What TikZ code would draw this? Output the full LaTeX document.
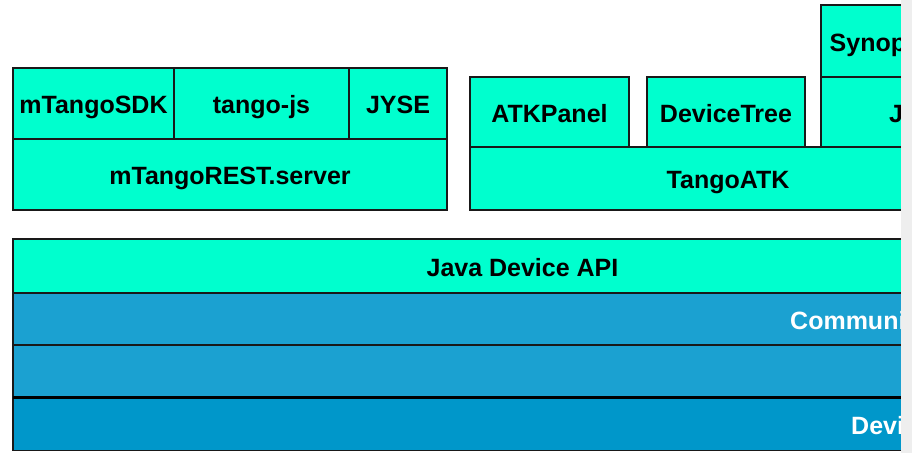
\documentclass[tikz,border=0pt]{standalone}
\usepackage{fontspec}
\setmainfont{Liberation Sans}
\definecolor{aqua}{RGB}{0,255,206}
\definecolor{midblue}{RGB}{27,161,209}
\definecolor{lowblue}{RGB}{0,151,202}
\definecolor{edge}{RGB}{25,25,25}
\definecolor{strip}{RGB}{238,238,238}
\tikzset{
  layer/.style={draw=edge, line width=1.5pt, rectangle, inner sep=0pt, outer sep=0pt,
    anchor=north west, font=\fontsize{25}{29}\selectfont\bfseries, text=black,
    text height=20pt, text depth=0pt},
  aq/.style={layer, fill=aqua},
  mb/.style={layer, fill=midblue},
  lb/.style={layer, fill=lowblue},
  lab/.style={inner sep=0pt, font=\fontsize{25}{29}\selectfont\bfseries,
    text height=20pt, text depth=0pt},
  wlab/.style={lab, text=white, anchor=west},
}
\begin{document}
\begin{tikzpicture}[x=1pt,y=-1pt]
\useasboundingbox (0,0) rectangle (912,453);
\fill[white] (0,0) rectangle (912,453);
\begin{scope}
\clip (0,0) rectangle (901,453);
% left group
\node[aq, minimum width=161, minimum height=71] (sdk) at (13,68) {mTangoSDK};
\node[aq, minimum width=175, minimum height=71] (js) at (174,68) {tango-js};
\node[aq, minimum width=98, minimum height=71] (jyse) at (349,68) {JYSE};
\node[aq, minimum width=434, minimum height=71] (rest) at (13,139) {mTangoREST.server};
% right group
\node[aq, minimum width=159, minimum height=70] (atkp) at (470,77) {ATKPanel};
\node[aq, minimum width=158, minimum height=70] (dtree) at (647,77) {DeviceTree};
\node[aq, minimum width=140, minimum height=72] (syn) at (821,5) {};
\node[aq, minimum width=140, minimum height=70] (jbox) at (821,77) {};
\node[aq, minimum width=500, minimum height=63] (atk) at (470,147) {};
\node[lab] (atkl) at (728,178.5) {TangoATK};
\node[lab, anchor=west] (synl) at (829.5,41) {Synop};
\node[lab, anchor=west] (jl) at (889,112) {J};
% bottom stack
\node[aq, minimum width=1100, minimum height=54] (api) at (13,239) {};
\node[lab] (apil) at (522.5,266) {Java Device API};
\node[mb, minimum width=1100, minimum height=52] (comm) at (13,293) {};
\node[wlab] (comml) at (790,319) {Communi};
\node[mb, minimum width=1100, minimum height=52] (blank) at (13,345) {};
\node[lb, minimum width=1100, minimum height=52] (dev) at (13,398.5) {};
\draw[black, line width=3pt] (blank.south west) -- (blank.south east);
\node[wlab] (devl) at (851,424.5) {Devi};
\end{scope}
\fill[strip] (901,0) rectangle (912,453);
\end{tikzpicture}
\end{document}
